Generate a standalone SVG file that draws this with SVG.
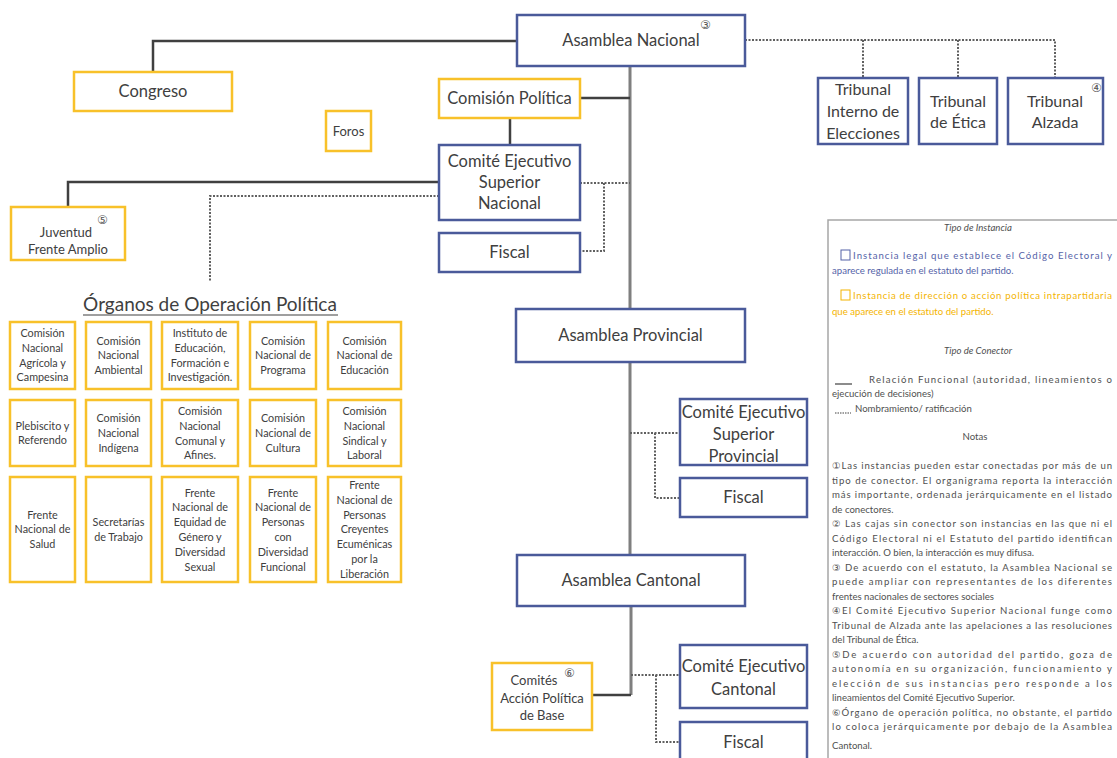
<svg xmlns="http://www.w3.org/2000/svg" width="1117" height="758" viewBox="0 0 1117 758">
<style>
.nb{fill:#fff;stroke:#4a5a9a;stroke-width:2.5}
.ny{fill:#fff;stroke:#f8c12a;stroke-width:2.5}
.t{font-family:Lato,'Liberation Sans',sans-serif;fill:#404040;text-anchor:middle}
.s15{font-size:16.5px}
.s14{font-size:16.5px}
.s16{font-size:16px}
.s13{font-size:13px}
.g{font-size:10.8px}
.sup{font-family:'DejaVu Sans',sans-serif;font-size:12px;fill:#555}
.c{fill:none;stroke:#404040;stroke-width:2.5}
.tr{fill:none;stroke:#7f7f7f;stroke-width:3}
.d{fill:none;stroke:#606060;stroke-width:2;stroke-dasharray:2 1.5}
.l{font-family:Lato,'Liberation Sans',sans-serif;font-size:9.6px;fill:#505050}
.li{font-style:italic;text-anchor:middle}
.lb{fill:#5563a8}
.lo{fill:#f4b400}
</style>
<rect x="0" y="0" width="1117" height="758" fill="#fff"/>

<g id="connectors">
  <path class="tr" d="M630 66 V309 M630 362 V555 M631 606 V695"/>
  <path class="c" d="M631 695 H592"/>
  <path class="c" d="M517 41 H153 V72"/>
  <path class="c" d="M580 98 H630"/>
  <path class="c" d="M510 118 V145"/>
  <path class="c" d="M439 182 H68 V207"/>
  <path class="d" d="M439 196 H210 V282"/>
  <path class="d" d="M580 183 H630 M604 183 V251 H580"/>
  <path class="d" d="M745 40 H1055 V78 M863 40 V78 M958 40 V78"/>
  <path class="d" d="M630 433 H680 M655 433 V498 H680"/>
  <path class="d" d="M631 675 H680 M656 675 V742 H680"/>
</g>

<g id="asamblea-nacional">
  <rect class="nb" x="517" y="15" width="228" height="51"/>
  <text class="t s15" x="631" y="46">Asamblea Nacional</text>
  <text class="sup" x="700" y="29">③</text>
</g>
<g id="congreso">
  <rect class="ny" x="74" y="72" width="158" height="39"/>
  <text class="t s15" x="153" y="97">Congreso</text>
</g>
<g id="foros">
  <rect class="ny" x="326" y="111" width="45" height="40"/>
  <text class="t s13" x="348.5" y="135.5">Foros</text>
</g>
<g id="comision-politica">
  <rect class="ny" x="439" y="79" width="141" height="39"/>
  <text class="t s14" x="509.5" y="104">Comisión Política</text>
</g>
<g id="cesn">
  <rect class="nb" x="439" y="145" width="141" height="75"/>
  <text class="t s14" x="509.5" y="167"><tspan x="509.5">Comité Ejecutivo</tspan><tspan x="509.5" dy="21">Superior</tspan><tspan x="509.5" dy="21">Nacional</tspan></text>
</g>
<g id="fiscal-nacional">
  <rect class="nb" x="439" y="233" width="141" height="39"/>
  <text class="t s14" x="509.5" y="258">Fiscal</text>
</g>
<g id="juventud">
  <rect class="ny" x="11" y="207" width="114" height="53"/>
  <text class="t s13" x="66" y="237"><tspan x="66">Juventud</tspan><tspan x="68" dy="17">Frente Amplio</tspan></text>
  <text class="sup" x="97" y="224">⑤</text>
</g>
<g id="tribunal-elecciones">
  <rect class="nb" x="818" y="78" width="90" height="66"/>
  <text class="t s16" x="863" y="95"><tspan x="863">Tribunal</tspan><tspan x="863" dy="22">Interno de</tspan><tspan x="863" dy="22">Elecciones</tspan></text>
</g>
<g id="tribunal-etica">
  <rect class="nb" x="919" y="78" width="78" height="66"/>
  <text class="t s16" x="958" y="107"><tspan x="958">Tribunal</tspan><tspan x="958" dy="21">de Ética</tspan></text>
</g>
<g id="tribunal-alzada">
  <rect class="nb" x="1008" y="78" width="95" height="66"/>
  <text class="t s16" x="1055" y="107"><tspan x="1055">Tribunal</tspan><tspan x="1055" dy="21">Alzada</tspan></text>
  <text class="sup" x="1091" y="92">④</text>
</g>

<g id="organos-titulo">
  <text class="t" x="210" y="311" style="font-size:19px">Órganos de Operación Política</text>
  <line x1="83" y1="315" x2="338" y2="315" stroke="#404040" stroke-width="1.2"/>
</g>

<g id="organos">
  <g id="o11"><rect class="ny" x="10" y="322" width="65" height="67"/><text class="t g" x="42.5" y="337"><tspan x="42.5">Comisión</tspan><tspan x="42.5" dy="14.8">Nacional</tspan><tspan x="42.5" dy="14.8">Agrícola y</tspan><tspan x="42.5" dy="14.8">Campesina</tspan></text></g>
  <g id="o12"><rect class="ny" x="86" y="322" width="65" height="67"/><text class="t g" x="118.5" y="344.5"><tspan x="118.5">Comisión</tspan><tspan x="118.5" dy="14.8">Nacional</tspan><tspan x="118.5" dy="14.8">Ambiental</tspan></text></g>
  <g id="o13"><rect class="ny" x="162" y="322" width="76" height="67"/><text class="t g" x="200" y="337"><tspan x="200">Instituto de</tspan><tspan x="200" dy="14.8">Educación,</tspan><tspan x="200" dy="14.8">Formación e</tspan><tspan x="200" dy="14.8">Investigación.</tspan></text></g>
  <g id="o14"><rect class="ny" x="250" y="322" width="66" height="67"/><text class="t g" x="283" y="344.5"><tspan x="283">Comisión</tspan><tspan x="283" dy="14.8">Nacional de</tspan><tspan x="283" dy="14.8">Programa</tspan></text></g>
  <g id="o15"><rect class="ny" x="328" y="322" width="73" height="67"/><text class="t g" x="364.5" y="344.5"><tspan x="364.5">Comisión</tspan><tspan x="364.5" dy="14.8">Nacional de</tspan><tspan x="364.5" dy="14.8">Educación</tspan></text></g>

  <g id="o21"><rect class="ny" x="10" y="400" width="65" height="66"/><text class="t g" x="42.5" y="429.5"><tspan x="42.5">Plebiscito y</tspan><tspan x="42.5" dy="14.8">Referendo</tspan></text></g>
  <g id="o22"><rect class="ny" x="86" y="400" width="65" height="66"/><text class="t g" x="118.5" y="422"><tspan x="118.5">Comisión</tspan><tspan x="118.5" dy="14.8">Nacional</tspan><tspan x="118.5" dy="14.8">Indígena</tspan></text></g>
  <g id="o23"><rect class="ny" x="162" y="400" width="76" height="66"/><text class="t g" x="200" y="415"><tspan x="200">Comisión</tspan><tspan x="200" dy="14.8">Nacional</tspan><tspan x="200" dy="14.8">Comunal y</tspan><tspan x="200" dy="14.8">Afines.</tspan></text></g>
  <g id="o24"><rect class="ny" x="250" y="400" width="66" height="66"/><text class="t g" x="283" y="422"><tspan x="283">Comisión</tspan><tspan x="283" dy="14.8">Nacional de</tspan><tspan x="283" dy="14.8">Cultura</tspan></text></g>
  <g id="o25"><rect class="ny" x="328" y="400" width="73" height="66"/><text class="t g" x="364.5" y="415"><tspan x="364.5">Comisión</tspan><tspan x="364.5" dy="14.8">Nacional</tspan><tspan x="364.5" dy="14.8">Sindical y</tspan><tspan x="364.5" dy="14.8">Laboral</tspan></text></g>

  <g id="o31"><rect class="ny" x="10" y="477" width="65" height="105"/><text class="t g" x="42.5" y="518.5"><tspan x="42.5">Frente</tspan><tspan x="42.5" dy="14.8">Nacional de</tspan><tspan x="42.5" dy="14.8">Salud</tspan></text></g>
  <g id="o32"><rect class="ny" x="86" y="477" width="65" height="105"/><text class="t g" x="118.5" y="526"><tspan x="118.5">Secretarías</tspan><tspan x="118.5" dy="14.8">de Trabajo</tspan></text></g>
  <g id="o33"><rect class="ny" x="162" y="477" width="76" height="105"/><text class="t g" x="200" y="496.5"><tspan x="200">Frente</tspan><tspan x="200" dy="14.8">Nacional de</tspan><tspan x="200" dy="14.8">Equidad de</tspan><tspan x="200" dy="14.8">Género y</tspan><tspan x="200" dy="14.8">Diversidad</tspan><tspan x="200" dy="14.8">Sexual</tspan></text></g>
  <g id="o34"><rect class="ny" x="250" y="477" width="66" height="105"/><text class="t g" x="283" y="496.5"><tspan x="283">Frente</tspan><tspan x="283" dy="14.8">Nacional de</tspan><tspan x="283" dy="14.8">Personas</tspan><tspan x="283" dy="14.8">con</tspan><tspan x="283" dy="14.8">Diversidad</tspan><tspan x="283" dy="14.8">Funcional</tspan></text></g>
  <g id="o35"><rect class="ny" x="328" y="477" width="73" height="105"/><text class="t g" x="364.5" y="489"><tspan x="364.5">Frente</tspan><tspan x="364.5" dy="14.8">Nacional de</tspan><tspan x="364.5" dy="14.8">Personas</tspan><tspan x="364.5" dy="14.8">Creyentes</tspan><tspan x="364.5" dy="14.8">Ecuménicas</tspan><tspan x="364.5" dy="14.8">por la</tspan><tspan x="364.5" dy="14.8">Liberación</tspan></text></g>
</g>

<g id="asamblea-provincial">
  <rect class="nb" x="516" y="309" width="229" height="53"/>
  <text class="t s15" x="630.5" y="341">Asamblea Provincial</text>
</g>
<g id="cesp">
  <rect class="nb" x="680" y="399" width="127" height="66"/>
  <text class="t s15" x="743.5" y="418"><tspan x="743.5">Comité Ejecutivo</tspan><tspan x="743.5" dy="22">Superior</tspan><tspan x="743.5" dy="22">Provincial</tspan></text>
</g>
<g id="fiscal-provincial">
  <rect class="nb" x="680" y="478" width="127" height="39"/>
  <text class="t s15" x="743.5" y="503">Fiscal</text>
</g>
<g id="asamblea-cantonal">
  <rect class="nb" x="517" y="555" width="228" height="51"/>
  <text class="t s15" x="631" y="586">Asamblea Cantonal</text>
</g>
<g id="comites">
  <rect class="ny" x="492" y="663" width="100" height="67"/>
  <text class="t s13" x="536" y="685"><tspan x="534">Comités</tspan><tspan x="542" dy="18">Acción Política</tspan><tspan x="542" dy="17">de Base</tspan></text>
  <text class="sup" x="564" y="677">⑥</text>
</g>
<g id="cec">
  <rect class="nb" x="680" y="645" width="127" height="63"/>
  <text class="t s15" x="743.5" y="672"><tspan x="743.5">Comité Ejecutivo</tspan><tspan x="743.5" dy="23">Cantonal</tspan></text>
</g>
<g id="fiscal-cantonal">
  <rect class="nb" x="680" y="722" width="127" height="40"/>
  <text class="t s15" x="743.5" y="748">Fiscal</text>
</g>

<g id="leyenda">
  <rect x="828" y="220" width="300" height="545" fill="#fff" stroke="#a6a6a6" stroke-width="1.5"/>
  <text class="l li" x="978" y="231">Tipo de Instancia</text>
  <rect x="841" y="250" width="9" height="10" fill="none" stroke="#5563a8" stroke-width="1"/>
  <text class="l lb" x="853" y="259" textLength="259" lengthAdjust="spacing">Instancia legal que establece el Código Electoral  y</text>
  <text class="l lb" x="832" y="274">aparece regulada en el estatuto del partido.</text>
  <rect x="841" y="290" width="9" height="10" fill="none" stroke="#f4b400" stroke-width="1"/>
  <text class="l lo" x="853" y="299" textLength="259" lengthAdjust="spacing">Instancia de dirección o acción política intrapartidaria</text>
  <text class="l lo" x="832" y="315">que aparece en el estatuto del partido.</text>
  <text class="l li" x="978" y="354">Tipo de Conector</text>
  <line x1="835" y1="384" x2="852" y2="384" stroke="#404040" stroke-width="1.2"/>
  <text class="l" x="869" y="383" textLength="243" lengthAdjust="spacing">Relación Funcional (autoridad, lineamientos o</text>
  <text class="l" x="832" y="397">ejecución de decisiones)</text>
  <line x1="835" y1="413" x2="851" y2="413" stroke="#404040" stroke-width="1" stroke-dasharray="1.5 1"/>
  <text class="l" x="855" y="412">Nombramiento/ ratificación</text>
  <text class="l" x="975" y="440" text-anchor="middle">Notas</text>
  <text class="l" x="832" y="469" textLength="280" lengthAdjust="spacing"><tspan font-family="DejaVu Sans">①</tspan>Las instancias pueden estar conectadas por más de un</text>
  <text class="l" x="832" y="483.5" textLength="280" lengthAdjust="spacing">tipo de conector. El organigrama reporta la interacción</text>
  <text class="l" x="832" y="498" textLength="280" lengthAdjust="spacing">más importante, ordenada jerárquicamente en el listado</text>
  <text class="l" x="832" y="512.5">de conectores.</text>
  <text class="l" x="832" y="527" textLength="280" lengthAdjust="spacing"><tspan font-family="DejaVu Sans">②</tspan> Las cajas sin conector son instancias en las que ni el</text>
  <text class="l" x="832" y="541.5" textLength="280" lengthAdjust="spacing">Código Electoral ni el Estatuto del partido identifican</text>
  <text class="l" x="832" y="556">interacción. O bien, la interacción es muy difusa.</text>
  <text class="l" x="832" y="570.5" textLength="280" lengthAdjust="spacing"><tspan font-family="DejaVu Sans">③</tspan> De acuerdo con el estatuto, la Asamblea Nacional se</text>
  <text class="l" x="832" y="585" textLength="280" lengthAdjust="spacing">puede ampliar con representantes de los diferentes</text>
  <text class="l" x="832" y="599.5">frentes nacionales de sectores sociales</text>
  <text class="l" x="832" y="614" textLength="280" lengthAdjust="spacing"><tspan font-family="DejaVu Sans">④</tspan>El Comité Ejecutivo Superior Nacional funge como</text>
  <text class="l" x="832" y="628.5" textLength="280" lengthAdjust="spacing">Tribunal de Alzada ante las apelaciones a las resoluciones</text>
  <text class="l" x="832" y="643">del Tribunal de Ética.</text>
  <text class="l" x="832" y="657.5" textLength="280" lengthAdjust="spacing"><tspan font-family="DejaVu Sans">⑤</tspan>De acuerdo con autoridad del partido, goza de</text>
  <text class="l" x="832" y="672" textLength="280" lengthAdjust="spacing">autonomía en su organización, funcionamiento y</text>
  <text class="l" x="832" y="686.5" textLength="280" lengthAdjust="spacing">elección de sus instancias pero responde a los</text>
  <text class="l" x="832" y="701">lineamientos del Comité Ejecutivo Superior.</text>
  <text class="l" x="832" y="715.5" textLength="280" lengthAdjust="spacing"><tspan font-family="DejaVu Sans">⑥</tspan>Órgano de operación política, no obstante, el partido</text>
  <text class="l" x="832" y="730" textLength="280" lengthAdjust="spacing">lo coloca jerárquicamente por debajo de la Asamblea</text>
  <text class="l" x="832" y="749">Cantonal.</text>
</g>
</svg>
